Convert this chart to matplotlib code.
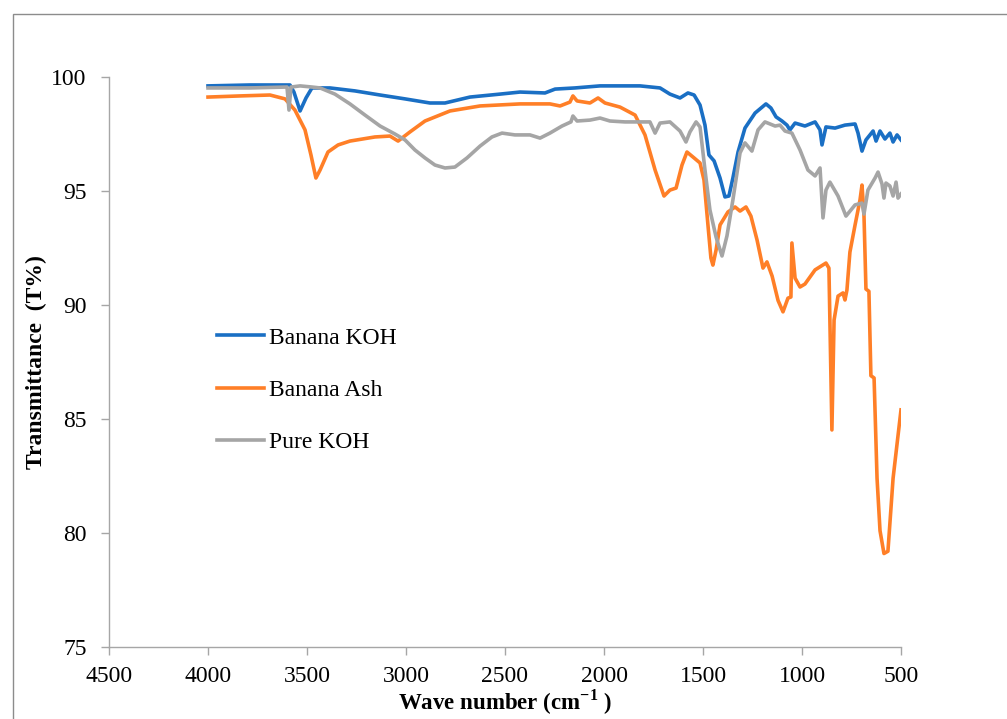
import matplotlib.pyplot as plt
from matplotlib.patches import Rectangle

plt.rcParams['font.family'] = ['Liberation Serif', 'DejaVu Serif']
plt.rcParams['mathtext.fontset'] = 'custom'
plt.rcParams['mathtext.rm'] = 'Liberation Serif'
plt.rcParams['mathtext.bf'] = 'Liberation Serif:bold'

# FTIR spectra: wavenumber (cm-1) and transmittance (%)
koh_wn = [4000, 3788, 3586, 3566, 3535, 3505, 3475, 3384, 3258, 3131, 3005, 2879,
          2803, 2677, 2525, 2424, 2298, 2247, 2147, 2020, 1818, 1717, 1667, 1616,
          1576, 1545, 1515, 1490, 1470, 1444, 1414, 1389, 1369, 1349, 1323, 1288,
          1237, 1182, 1157, 1131, 1101, 1076, 1061, 1035, 985, 934, 909, 899, 879,
          833, 783, 732, 717, 697, 677, 641, 626, 606, 581, 556, 540, 520, 500]
koh_t = [99.61, 99.65, 99.65, 99.34, 98.51, 99.08, 99.52, 99.52, 99.39, 99.21, 99.04,
         98.86, 98.86, 99.12, 99.25, 99.34, 99.30, 99.47, 99.52, 99.61, 99.61, 99.52,
         99.25, 99.08, 99.30, 99.21, 98.77, 97.89, 96.58, 96.32, 95.57, 94.74, 94.78,
         95.57, 96.71, 97.76, 98.42, 98.82, 98.64, 98.25, 98.07, 97.89, 97.68, 97.98,
         97.85, 98.03, 97.68, 97.02, 97.81, 97.76, 97.89, 97.94, 97.54, 96.75, 97.24,
         97.63, 97.19, 97.63, 97.28, 97.54, 97.15, 97.46, 97.24]

ash_wn = [4000, 3838, 3687, 3611, 3561, 3510, 3480, 3455, 3434, 3394, 3343, 3283,
          3157, 3081, 3040, 2980, 2904, 2778, 2626, 2424, 2273, 2222, 2172, 2157,
          2136, 2071, 2030, 1995, 1919, 1843, 1793, 1742, 1697, 1667, 1636, 1606,
          1581, 1545, 1515, 1495, 1475, 1460, 1450, 1434, 1414, 1374, 1338, 1313,
          1283, 1258, 1227, 1197, 1177, 1151, 1121, 1096, 1071, 1056, 1051, 1035,
          1010, 985, 934, 879, 864, 849, 838, 818, 793, 783, 773, 758, 732, 707,
          697, 687, 677, 662, 652, 636, 621, 606, 586, 566, 540, 520, 500]
ash_t = [99.12, 99.17, 99.21, 99.04, 98.55, 97.68, 96.58, 95.57, 95.92, 96.71, 97.02,
         97.19, 97.37, 97.41, 97.19, 97.59, 98.07, 98.51, 98.73, 98.82, 98.82, 98.73,
         98.90, 99.17, 98.95, 98.86, 99.08, 98.86, 98.68, 98.33, 97.46, 95.92, 94.78,
         95.04, 95.13, 96.14, 96.71, 96.45, 96.23, 95.48, 93.51, 92.06, 91.75, 92.41,
         93.51, 94.08, 94.30, 94.12, 94.30, 93.90, 92.85, 91.62, 91.89, 91.27, 90.2,
         89.7, 90.3, 90.35, 92.72, 91.18, 90.79, 90.92, 91.54, 91.84, 91.62, 84.52,
         89.34, 90.39, 90.53, 90.22, 90.66, 92.32, 93.51, 94.61, 95.26, 93.95, 90.7,
         90.6, 86.9, 86.8, 82.4, 80.1, 79.1, 79.2, 82.4, 83.9, 85.4]

pure_wn = [4000, 3788, 3601, 3591, 3581, 3535, 3475, 3434, 3359, 3283, 3207, 3131,
           3056, 3005, 2955, 2904, 2854, 2803, 2753, 2692, 2626, 2566, 2515, 2450,
           2374, 2323, 2273, 2212, 2167, 2157, 2136, 2071, 2020, 1970, 1894, 1768,
           1742, 1717, 1667, 1616, 1586, 1566, 1535, 1515, 1490, 1465, 1434, 1404,
           1379, 1349, 1313, 1288, 1253, 1222, 1187, 1136, 1111, 1086, 1051, 1010,
           970, 934, 909, 894, 879, 859, 818, 778, 732, 697, 687, 667, 631, 616,
           596, 586, 576, 556, 540, 525, 515, 500]
pure_t = [99.52, 99.52, 99.56, 98.55, 99.56, 99.61, 99.56, 99.52, 99.25, 98.82, 98.33,
          97.85, 97.50, 97.24, 96.80, 96.45, 96.14, 96.01, 96.05, 96.45, 96.97, 97.37,
          97.54, 97.46, 97.46, 97.32, 97.54, 97.85, 98.03, 98.29, 98.07, 98.11, 98.20,
          98.07, 98.03, 98.03, 97.54, 97.98, 98.03, 97.63, 97.15, 97.59, 98.03, 97.81,
          95.92, 94.17, 92.98, 92.15, 93.03, 94.61, 96.67, 97.11, 96.75, 97.68, 98.03,
          97.85, 97.89, 97.63, 97.54, 96.80, 95.92, 95.66, 96.01, 93.82, 95.04, 95.39,
          94.78, 93.90, 94.39, 94.47, 93.99, 95.04, 95.57, 95.83, 95.31, 94.69, 95.35,
          95.22, 94.78, 95.39, 94.69, 94.87]

labels = ['Banana KOH', 'Banana Ash', 'Pure KOH']
colors = ['#1a6fc4', '#ff7f27', '#a5a5a5']

fig = plt.figure(figsize=(10.07, 7.19), dpi=100)
ax = fig.add_axes([109 / 1007, 72 / 719, 792 / 1007, 570 / 719])

# chart frame
fig.patches.append(Rectangle((13 / 1007, -0.1), 1.2, 1.1 - 14 / 719,
                             transform=fig.transFigure, fill=False,
                             edgecolor='#8c8c8c', linewidth=1.0))

ax.plot(koh_wn, koh_t, color=colors[0], lw=2.6, label=labels[0])
ax.plot(ash_wn, ash_t, color=colors[1], lw=2.6, label=labels[1])
ax.plot(pure_wn, pure_t, color=colors[2], lw=2.6, label=labels[2])

ax.set_xlim(4500, 500)
ax.set_ylim(75, 100)
ax.set_xticks(range(4500, 499, -500))
ax.set_yticks(range(75, 101, 5))

for s in ['top', 'right']:
    ax.spines[s].set_visible(False)
for s in ['left', 'bottom']:
    ax.spines[s].set_color('#a6a6a6')
    ax.spines[s].set_linewidth(1.0)
ax.tick_params(direction='out', length=6, width=1.0, color='#a6a6a6',
               labelsize=17, pad=10)
ax.tick_params(axis='x', pad=8)

ax.set_xlabel('Wave number (cm$^{\\mathbf{-1}}$ )', fontsize=16.5, fontweight='bold',
              labelpad=0)
ax.set_ylabel('Transmittance  (T%)', fontsize=17, fontweight='bold', labelpad=3)

ax.legend(loc='upper left', bbox_to_anchor=(0.121, 0.582), frameon=False,
          fontsize=17, borderpad=0, handlelength=2.0, handletextpad=0.2,
          labelspacing=1.3)

fig.savefig('out.png', dpi=100)
